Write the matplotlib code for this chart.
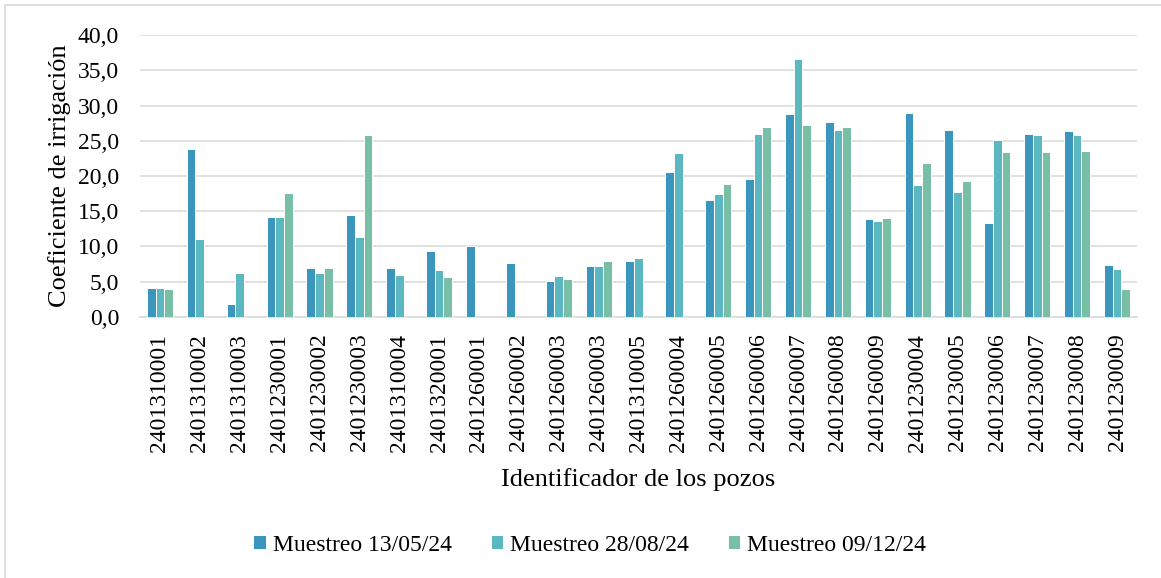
import matplotlib
matplotlib.use("Agg")
import matplotlib.pyplot as plt
import numpy as np
from matplotlib.patches import Rectangle

pozos = ["2401310001", "2401310002", "2401310003", "2401230001", "2401230002",
         "2401230003", "2401310004", "2401320001", "2401260001", "2401260002",
         "2401260003", "2401260003", "2401310005", "2401260004", "2401260005",
         "2401260006", "2401260007", "2401260008", "2401260009", "2401230004",
         "2401230005", "2401230006", "2401230007", "2401230008", "2401230009"]

muestreo_1 = [4.1, 23.9, 1.9, 14.2, 7.0, 14.5, 7.0, 9.3, 10.1, 7.6, 5.1, 7.3, 8.0,
              20.5, 16.6, 19.6, 28.8, 27.6, 13.9, 29.0, 26.5, 13.4, 25.9, 26.4, 7.4]
muestreo_2 = [4.1, 11.1, 6.2, 14.2, 6.2, 11.3, 5.9, 6.7, 0, 0, 5.8, 7.3, 8.3,
              23.2, 17.4, 26.0, 36.6, 26.5, 13.6, 18.7, 17.7, 25.1, 25.8, 25.8, 6.8]
muestreo_3 = [3.9, 0, 0, 17.6, 7.0, 25.8, 0, 5.7, 0, 0, 5.4, 7.9, 0,
              0, 18.9, 27.0, 27.3, 27.0, 14.0, 21.9, 19.3, 23.4, 23.4, 23.5, 4.0]

series_labels = ["Muestreo 13/05/24", "Muestreo 28/08/24", "Muestreo 09/12/24"]
colors = ["#3A96BC", "#5BB7C0", "#79BFA6"]

plt.rcParams['font.family'] = ['Liberation Serif', 'DejaVu Serif']

fig = plt.figure(figsize=(11.61, 5.78), dpi=100)
ax = fig.add_axes([0.1206, 0.4516, 0.8587, 0.4878])

x = np.arange(len(pozos))
w = 0.218
for i, (vals, lab, c) in enumerate(zip([muestreo_1, muestreo_2, muestreo_3], series_labels, colors)):
    ax.bar(x + (i - 1) * w, vals, width=w, color=c, edgecolor="white", linewidth=0.7,
           label=lab, zorder=3)

ax.set_xlim(-0.5, len(pozos) - 0.5)
ax.set_ylim(0, 40)
ax.set_yticks(np.arange(0, 41, 5))
ax.set_yticklabels([f"{v:.1f}".replace(".", ",") for v in np.arange(0, 41, 5)], fontsize=17)
ax.set_xticks(x)
ax.set_xticklabels(pozos, rotation=90, fontsize=17)
ax.tick_params(axis='y', length=0, pad=15)
ax.tick_params(axis='x', length=0, pad=12)
ax.grid(axis='y', color="#D9D9D9", linewidth=1.1, zorder=0)
for s in ["top", "right", "left"]:
    ax.spines[s].set_visible(False)
ax.spines["bottom"].set_color("#D9D9D9")
ax.spines["bottom"].set_linewidth(1.1)

ax.set_ylabel("Coeficiente de irrigación", fontsize=19, labelpad=5)
ax.set_xlabel("Identificador de los pozos", fontsize=19, labelpad=12)

leg = fig.legend(loc="center", bbox_to_anchor=(0.5078, 0.057), ncol=3, frameon=False,
                 fontsize=17, handlelength=0.51, handleheight=0.51, handletextpad=0.3,
                 columnspacing=1.65)

fig.patches.append(Rectangle((5 / 1161, -0.1), 1.2, (578 - 5) / 578 + 0.1,
                             transform=fig.transFigure, fill=False,
                             edgecolor="#D9D9D9", linewidth=1.2))

fig.savefig("out.png", dpi=100)
